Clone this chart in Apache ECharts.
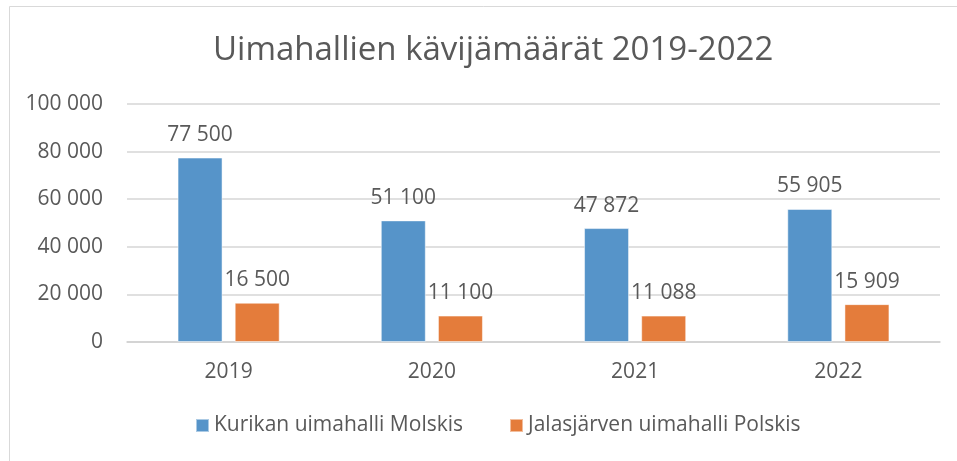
<!DOCTYPE html>
<html>
<head>
<meta charset="utf-8">
<script src="https://cdn.jsdelivr.net/npm/echarts@6/dist/echarts.min.js"></script>
<style>
  html, body { margin: 0; padding: 0; background: #fff; }
  #chart { width: 957px; height: 461px; }
</style>
</head>
<body>
<div id="chart"></div>
<script>
// data
const years = ['2019', '2020', '2021', '2022']
const molskis = [77500, 51100, 47872, 55905]
const polskis = [16500, 11100, 11088, 15909]
const seriesNames = ['Kurikan uimahalli Molskis', 'Jalasjärven uimahalli Polskis']

const fmt = (v) => String(v).replace(/\B(?=(\d{3})+(?!\d))/g, ' ')
const font = '"Open Sans", "Noto Sans", sans-serif'
const textColor = '#595959'

const chart = echarts.init(document.getElementById('chart'))

const barLabel = {
  show: true,
  position: 'top',
  distance: 12,
  color: textColor,
  fontFamily: font,
  fontSize: 21,
  formatter: (p) => fmt(p.value)
}

const option = {
  animation: false,
  backgroundColor: '#fff',
  textStyle: { fontFamily: font },
  graphic: [
    {
      type: 'rect',
      shape: { x: 9.5, y: 6.5, width: 970, height: 480 },
      style: { fill: 'none', stroke: '#d9d9d9', lineWidth: 1 },
      silent: true
    }
  ],
  title: {
    text: 'Uimahallien kävijämäärät 2019-2022',
    left: 208,
    top: 29,
    textStyle: {
      fontFamily: font,
      fontSize: 33,
      fontWeight: 'normal',
      color: textColor
    }
  },
  legend: {
    data: seriesNames,
    bottom: 20,
    left: 190,
    itemWidth: 13,
    itemHeight: 13,
    itemGap: 46,
    icon: 'rect',
    textStyle: { fontFamily: font, fontSize: 21, color: textColor }
  },
  grid: {
    left: 127,
    right: 17,
    top: 104,
    bottom: 119
  },
  xAxis: {
    type: 'category',
    data: years,
    axisTick: { show: false },
    axisLine: { lineStyle: { color: '#d0d0d0', width: 1.5 } },
    axisLabel: { color: textColor, fontFamily: font, fontSize: 21, margin: 20 }
  },
  yAxis: {
    type: 'value',
    min: 0,
    max: 100000,
    interval: 20000,
    axisLine: { show: false },
    axisTick: { show: false },
    splitLine: { lineStyle: { color: '#d6d6d6', width: 1.5 } },
    axisLabel: {
      color: textColor,
      fontFamily: font,
      fontSize: 21,
      margin: 24,
      formatter: (v) => fmt(v)
    }
  },
  series: [
    {
      name: seriesNames[0],
      type: 'bar',
      data: molskis,
      barWidth: 45,
      barGap: '27%',
      itemStyle: { color: '#5694c9', borderColor: 'rgba(255,255,255,0.5)', borderWidth: 1 },
      label: barLabel
    },
    {
      name: seriesNames[1],
      type: 'bar',
      data: polskis,
      barWidth: 45,
      itemStyle: { color: '#e47c3b', borderColor: 'rgba(255,255,255,0.5)', borderWidth: 1 },
      label: barLabel
    }
  ]
}

chart.setOption(option)
window.addEventListener('resize', () => chart.resize())
</script>
</body>
</html>
